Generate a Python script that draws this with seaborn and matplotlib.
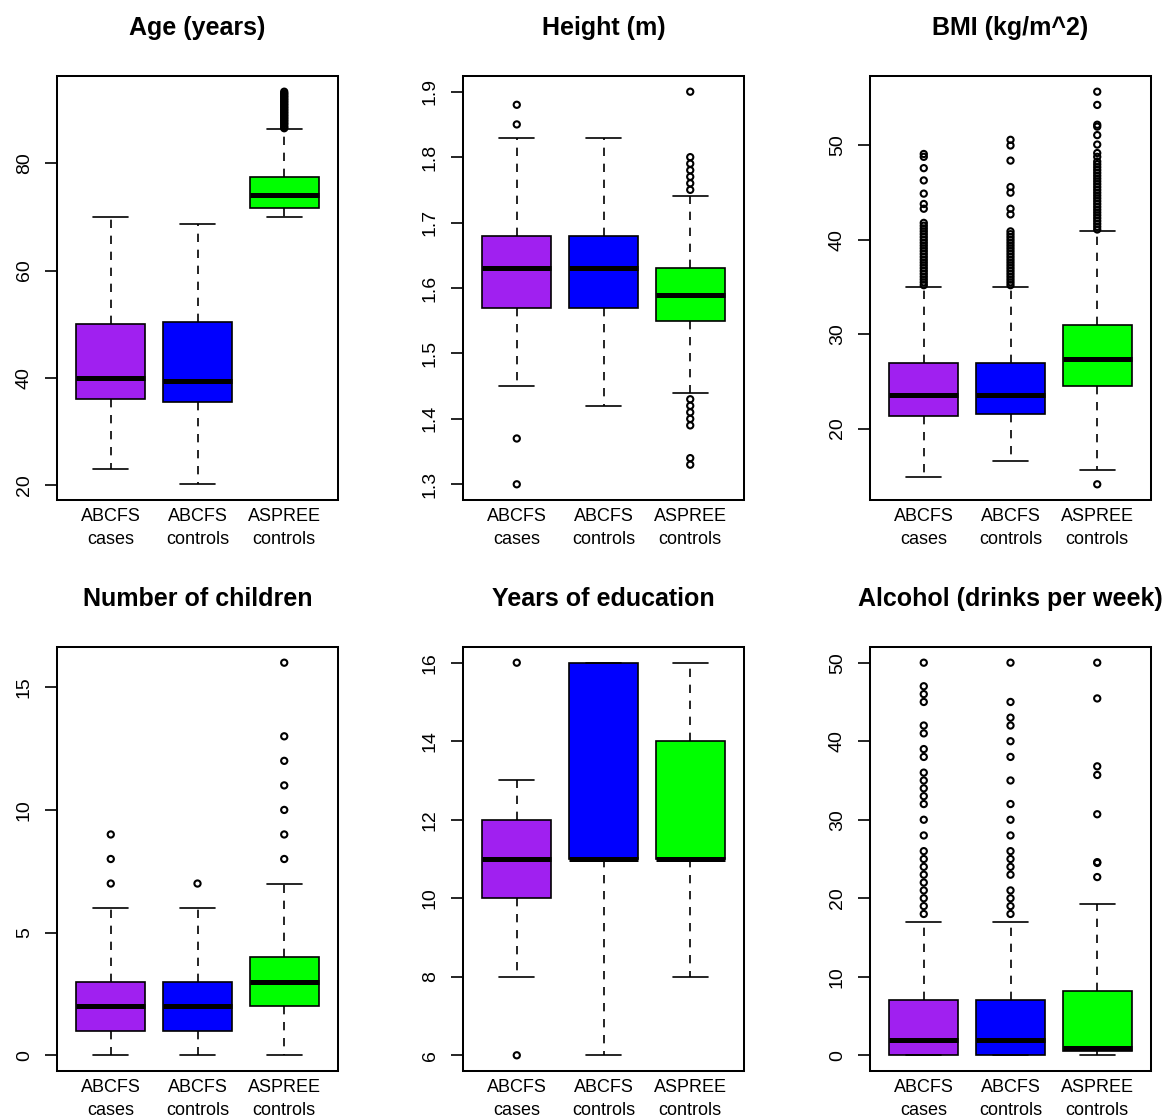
import matplotlib
matplotlib.use("Agg")
import matplotlib.pyplot as plt
import seaborn as sns
import numpy as np

# ---------------- data ----------------
groups = ["ABCFS\ncases", "ABCFS\ncontrols", "ASPREE\ncontrols"]
box_colors = ["#A020F0", "#0000FF", "#00FF00"]

titles = ["Age (years)", "Height (m)", "BMI (kg/m^2)",
          "Number of children", "Years of education", "Alcohol (drinks per week)"]

# Age
age_low = [23, 20.2, 70]
age_q1 = [36, 35.6, 71.7]
age_med = [40, 39.5, 74]
age_q3 = [50, 50.4, 77.5]
age_high = [70, 68.7, 86.3]
age_fliers = [[], [],
              [86.5, 86.7, 87.0, 87.3, 87.5, 87.8, 88.0, 88.3, 88.5, 88.8, 89.0,
               89.3, 89.5, 89.8, 90.0, 90.3, 90.5, 90.8, 91.0, 91.3, 91.5, 91.8,
               92.0, 92.3, 92.5, 92.8, 93.0, 93.3]]
age_ticks = [20, 40, 60, 80]

# Height
height_low = [1.45, 1.42, 1.44]
height_q1 = [1.57, 1.57, 1.55]
height_med = [1.63, 1.63, 1.59]
height_q3 = [1.68, 1.68, 1.63]
height_high = [1.83, 1.83, 1.74]
height_fliers = [[1.88, 1.85, 1.37, 1.30], [],
                 [1.75, 1.76, 1.77, 1.78, 1.79, 1.80, 1.90,
                  1.43, 1.42, 1.41, 1.40, 1.39, 1.34, 1.33]]
height_ticks = [1.3, 1.4, 1.5, 1.6, 1.7, 1.8, 1.9]

# BMI
bmi_low = [14.9, 16.6, 15.6]
bmi_q1 = [21.3, 21.5, 24.5]
bmi_med = [23.6, 23.6, 27.4]
bmi_q3 = [26.9, 26.9, 31.0]
bmi_high = [35.0, 35.0, 40.9]
bmi_fliers = [[35.2, 35.5, 35.8, 36.1, 36.4, 36.7, 37.0, 37.3, 37.6, 37.9, 38.2,
               38.5, 38.8, 39.1, 39.4, 39.7, 40.0, 40.3, 40.6, 40.9, 41.2, 41.5,
               41.8, 43.3, 43.8, 44.9, 46.3, 47.6, 48.8, 49.1],
              [35.2, 35.5, 35.8, 36.1, 36.4, 36.7, 37.0, 37.3, 37.6, 37.9, 38.2,
               38.5, 38.8, 39.1, 39.4, 39.7, 40.0, 40.3, 40.6, 40.9,
               42.7, 43.3, 45.0, 45.6, 48.4, 50.0, 50.6],
              [41.1, 41.4, 41.7, 42.0, 42.3, 42.6, 42.9, 43.2, 43.5, 43.8, 44.1,
               44.4, 44.7, 45.0, 45.3, 45.6, 45.9, 46.2, 46.5, 46.8, 47.1, 47.4,
               47.7, 48.0, 48.3, 48.8, 49.2, 50.1, 51.1, 52.0, 52.2, 54.3, 55.7,
               14.1]]
bmi_ticks = [20, 30, 40, 50]

# Number of children
child_low = [0, 0, 0]
child_q1 = [1, 1, 2]
child_med = [2, 2, 3]
child_q3 = [3, 3, 4]
child_high = [6, 6, 7]
child_fliers = [[7, 8, 9], [7], [8, 9, 10, 11, 12, 13, 16]]
child_ticks = [0, 5, 10, 15]

# Years of education
edu_low = [8, 6, 8]
edu_q1 = [10, 11, 11]
edu_med = [11, 11, 11]
edu_q3 = [12, 16, 14]
edu_high = [13, 16, 16]
edu_fliers = [[16, 6], [], []]
edu_ticks = [6, 8, 10, 12, 14, 16]

# Alcohol
alc_low = [0, 0, 0]
alc_q1 = [0, 0, 0.6]
alc_med = [2, 2, 0.9]
alc_q3 = [7, 7, 8.25]
alc_high = [17, 17, 19.26]
alc_fliers = [[18, 19, 20, 21, 22, 23, 24, 25, 26, 28, 30, 32, 33, 34, 35, 36,
               38, 39, 41, 42, 45, 46, 47, 50],
              [18, 19, 20, 21, 23, 24, 25, 26, 28, 30, 32, 35, 38, 40, 42, 43,
               45, 50],
              [22.7, 24.5, 24.6, 30.7, 35.7, 36.8, 45.45, 50]]
alc_ticks = [0, 10, 20, 30, 40, 50]

panels = [
    (age_low, age_q1, age_med, age_q3, age_high, age_fliers, age_ticks),
    (height_low, height_q1, height_med, height_q3, height_high, height_fliers, height_ticks),
    (bmi_low, bmi_q1, bmi_med, bmi_q3, bmi_high, bmi_fliers, bmi_ticks),
    (child_low, child_q1, child_med, child_q3, child_high, child_fliers, child_ticks),
    (edu_low, edu_q1, edu_med, edu_q3, edu_high, edu_fliers, edu_ticks),
    (alc_low, alc_q1, alc_med, alc_q3, alc_high, alc_fliers, alc_ticks),
]

# ---------------- style ----------------
sns.set_theme(style="ticks")
plt.rcParams["font.family"] = ["Liberation Sans", "DejaVu Sans"]
plt.rcParams["text.color"] = "black"
plt.rcParams["axes.labelcolor"] = "black"
plt.rcParams["xtick.color"] = "black"
plt.rcParams["ytick.color"] = "black"
plt.rcParams["axes.linewidth"] = 1.45
plt.rcParams["axes.edgecolor"] = "black"

W, H = 1168, 1117
fig = plt.figure(figsize=(W / 100, H / 100), dpi=100)

col_left = [57, 463, 870]
row_top = [76, 647]
ax_w, ax_h = 281, 424

positions = [1, 2, 3]
LW = 1.2

for i, (low, q1, med, q3, high, fliers, ticks) in enumerate(panels):
    r, c = divmod(i, 3)
    left = col_left[c] / W
    bottom = (H - row_top[r] - ax_h) / H
    ax = fig.add_axes([left, bottom, ax_w / W, ax_h / H])

    stats = [dict(whislo=low[g], q1=q1[g], med=med[g], q3=q3[g], whishi=high[g],
                  fliers=[]) for g in range(3)]
    bp = ax.bxp(stats, positions=positions, widths=0.8, capwidths=0.4,
                patch_artist=True, showfliers=False,
                boxprops=dict(edgecolor="black", linewidth=LW),
                medianprops=dict(color="black", linewidth=3.6, solid_capstyle="butt"),
                whiskerprops=dict(color="black", linewidth=LW,
                                  linestyle=(0, (5.0, 4.6))),
                capprops=dict(color="black", linewidth=LW))
    for patch, col in zip(bp["boxes"], box_colors):
        patch.set_facecolor(col)

    fx = [positions[g] for g in range(3) for _ in fliers[g]]
    fy = [v for g in range(3) for v in fliers[g]]
    if fy:
        sns.scatterplot(x=fx, y=fy, ax=ax, marker="o", s=20, facecolor="none",
                        edgecolor="black", linewidth=1.5, legend=False, zorder=4)

    # y range like R: data range extended 4% each side
    allv = low + high + fy
    lo, hi = min(allv), max(allv)
    pad = 0.04 * (hi - lo)
    ax.set_ylim(lo - pad, hi + pad)
    ax.set_xlim(0.38, 3.62)

    ax.set_yticks(ticks)
    ax.set_yticklabels([f"{t:g}" for t in ticks])
    ax.set_xticks(positions)
    ax.set_xticklabels(groups, linespacing=1.45)

    ax.tick_params(axis="y", direction="out", length=8.4, width=LW, pad=9.0,
                   labelrotation=90, labelsize=14, colors="black")
    ax.tick_params(axis="x", length=0, pad=6.0, labelsize=13, colors="black")
    for t in ax.get_yticklabels():
        t.set_va("center")
    for s in ax.spines.values():
        s.set_visible(True)
        s.set_linewidth(1.45)
        s.set_color("black")
    ax.set_facecolor("white")
    ax.set_title(titles[i], fontsize=18, fontweight="bold", pad=29.5, color="black")

fig.savefig("out.png", dpi=100, facecolor="white")
